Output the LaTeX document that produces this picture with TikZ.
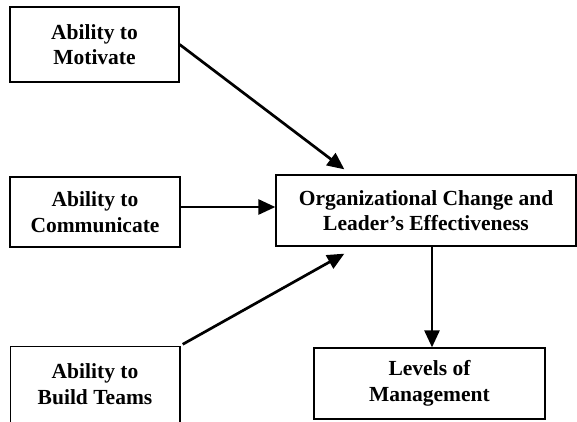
\documentclass[tikz,border=0pt]{standalone}
\usepackage{fontspec}
\setmainfont{Liberation Serif}
\usetikzlibrary{arrows.meta,calc}
\begin{document}
\begin{tikzpicture}[x=1pt,y=-1pt,
  txt/.style={inner sep=0pt,align=center,font=\fontsize{21.5}{25.5}\selectfont\bfseries},
  box/.style={txt,draw,line width=1.3pt},
  conn/.style={line width=2.7pt,-{Triangle[length=17pt,width=15pt]}}]
\useasboundingbox (0,0) rectangle (577,421);
\node[box,minimum width=169pt,minimum height=75pt] (mot) at (94.5,44.5) {Ability to\\Motivate};
\node[box,minimum width=170pt,minimum height=70pt] (com) at (95,212) {Ability to\\Communicate};
\node[txt,minimum width=169pt,minimum height=75pt] (bld) at (95,384) {Ability to\\Build Teams};
\draw[line width=1.6pt] (bld.north west) rectangle ($(bld.south east)+(0,10)$);
\node[box,minimum width=300pt,minimum height=71pt] (org) at (426,210.5) {Organizational Change and\\Leader’s Effectiveness};
\node[box,minimum width=231pt,minimum height=71pt] (lev) at (429.5,383.5) {Levels of\\Management};
\draw[conn] (mot.east) -- ($(org.north west)+(69,-5)$);
\coordinate (ca) at ($(com.east)+(0,-5)$);
\draw[conn] (ca) -- (ca -| org.west);
\draw[conn] ($(bld.north east)+(3,-2)$) -- ($(org.south west)+(69,7)$);
\coordinate (da) at ($(org.south)+(6,0)$);
\draw[conn] (da) -- (da |- lev.north);
\end{tikzpicture}
\end{document}
